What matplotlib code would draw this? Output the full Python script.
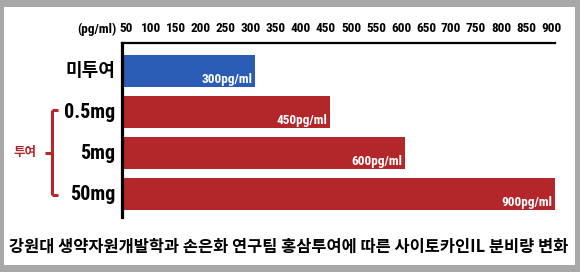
import matplotlib
matplotlib.use('Agg')
import matplotlib.pyplot as plt
from matplotlib import font_manager
from matplotlib.patches import Rectangle
from matplotlib.lines import Line2D
from matplotlib.transforms import blended_transform_factory, ScaledTranslation

# data
groups = ['미투여', '0.5mg', '5mg', '50mg']
values = [300, 450, 600, 900]
value_labels = ['300pg/ml', '450pg/ml', '600pg/ml', '900pg/ml']
tick_values = list(range(50, 901, 50))
bar_colors = ['#2b5cb5', '#b3262a', '#b3262a', '#b3262a']
unit_label = '(pg/ml)'
dose_label = '투여'
caption = '강원대 생약자원개발학과 손은화 연구팀 홍삼투여에 따른 사이토카인IL 분비량 변화'

RED = '#b3262a'
KR = 'Noto Sans CJK KR'


def pick(*names):
    for n in names:
        try:
            font_manager.findfont(n, fallback_to_default=False)
            return n
        except ValueError:
            pass
    return 'DejaVu Sans'


NARROW = pick('Liberation Sans Narrow', 'Roboto Condensed', 'Liberation Sans')

W, H = 580, 272
fig = plt.figure(figsize=(W / 100, H / 100), dpi=100)
fig.patch.set_facecolor('#a8a8a8')
# white card inside the grey frame
fig.add_artist(Rectangle((4 / W, 7 / H), 571 / W, 258 / H, transform=fig.transFigure,
                         facecolor='white', edgecolor='none', zorder=0))

ax = fig.add_axes([122 / W, 1 - 217 / H, (555 - 122) / W, (217 - 43) / H])
ax.set_facecolor('none')

y = list(range(len(groups)))
ax.barh(y, values, height=0.78, color=bar_colors, zorder=2)

ax.set_xlim(34, 900)
ax.set_ylim(3.56, -0.68)

for spine in ['right', 'bottom']:
    ax.spines[spine].set_visible(False)
ax.spines['left'].set_linewidth(2.3)
ax.spines['top'].set_linewidth(1.6)

ax.xaxis.tick_top()
ax.set_xticks(tick_values)
ax.set_xticklabels([str(v) for v in tick_values], fontfamily=NARROW,
                   fontweight='bold', fontsize=9.5)
ax.tick_params(axis='x', length=0, pad=6)
shift = ScaledTranslation(-4 / 100, 0, fig.dpi_scale_trans)
for lab in ax.get_xticklabels():
    lab.set_transform(lab.get_transform() + shift)
ax.set_yticks([])

# unit label left of tick labels
fig.text(117 / W, 1 - 29 / H, unit_label, ha='right', va='center',
         fontfamily=NARROW, fontweight='bold', fontsize=9.5)

# category labels
lab_tr = blended_transform_factory(fig.transFigure, ax.transData)
for i, g in enumerate(groups):
    if i == 0:
        ax.text(115 / W, i, g, transform=lab_tr, ha='right', va='center',
                fontfamily=KR, fontweight='heavy', fontsize=13)
    else:
        ax.text(115 / W, i + 0.02, g, transform=lab_tr, ha='right', va='center',
                fontfamily=NARROW, fontweight='bold', fontsize=14.5)

# value labels inside bars
for i, (v, t) in enumerate(zip(values, value_labels)):
    ax.annotate(t, xy=(v, i + 0.2), xytext=(-2, 0), textcoords='offset points',
                ha='right', va='center', color='white', fontfamily=NARROW,
                fontweight='bold', fontsize=9.5, zorder=3)

# red bracket for the dosed groups
bx, tip, left = 52 / W, 58 / W, 45 / W
for xs, ys in [([bx, bx], [0.95, 3.02]), ([bx, tip], [0.95, 0.95]),
               ([bx, tip], [3.02, 3.02]), ([left, bx], [2.0, 2.0])]:
    fig.add_artist(Line2D(xs, ys, transform=lab_tr, color=RED, linewidth=2.2,
                          solid_capstyle='butt'))
ax.text(25 / W, 2.0, dose_label, transform=lab_tr, ha='center', va='center',
        color=RED, fontfamily=KR, fontweight='heavy', fontsize=9)

fig.text(0.497, 1 - 247 / H, caption, ha='center', va='center',
         fontfamily=KR, fontweight='heavy', fontsize=11.8)

fig.savefig('out.png', dpi=100, facecolor=fig.get_facecolor())
